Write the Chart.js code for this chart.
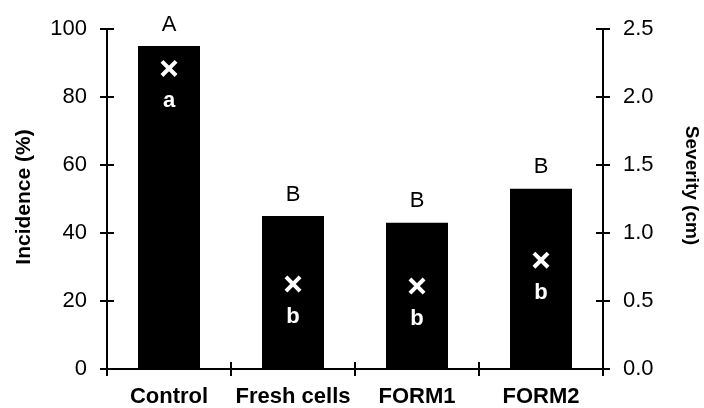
<!DOCTYPE html>
<html>
<head>
<meta charset="utf-8">
<script src="https://cdn.jsdelivr.net/npm/chart.js@4.4.1/dist/chart.umd.min.js"></script>
<style>
  html, body { margin: 0; padding: 0; background: #fff; }
  #wrap { width: 704px; height: 408px; position: relative; }
</style>
</head>
<body>
<div id="wrap"><canvas id="c"></canvas></div>
<script>
const categories = ['Control', 'Fresh cells', 'FORM1', 'FORM2'];
const incidence = [95, 45, 43, 53];
const severity = [2.21, 0.625, 0.61, 0.80];
const incidenceLetters = ['A', 'B', 'B', 'B'];
const severityLetters = ['a', 'b', 'b', 'b'];
const incidenceTicks = [0, 20, 40, 60, 80, 100];
const severityTicks = [0, 0.5, 1.0, 1.5, 2.0, 2.5];
const leftTitle = 'Incidence (%)';
const rightTitle = 'Severity (cm)';

const FAMILY = "'Liberation Sans', Arial, Helvetica, sans-serif";

const decorPlugin = {
  id: 'decor',
  afterDatasetsDraw(chart) {
    const ctx = chart.ctx;
    const ca = chart.chartArea;
    const x = chart.scales.x, y = chart.scales.y, y2 = chart.scales.y2;
    ctx.save();
    ctx.strokeStyle = '#000';
    ctx.lineWidth = 2;
    ctx.lineCap = 'butt';
    const yTop = y.getPixelForValue(incidenceTicks[incidenceTicks.length - 1]);
    const yBot = y.getPixelForValue(incidenceTicks[0]);
    // axis lines
    ctx.beginPath();
    ctx.moveTo(ca.left, yTop); ctx.lineTo(ca.left, yBot);
    ctx.moveTo(ca.right, y2.getPixelForValue(severityTicks[severityTicks.length - 1]));
    ctx.lineTo(ca.right, y2.getPixelForValue(severityTicks[0]));
    ctx.moveTo(ca.left - 1, yBot); ctx.lineTo(ca.right + 1, yBot);
    ctx.stroke();
    // ticks
    ctx.beginPath();
    incidenceTicks.forEach(v => {
      const p = y.getPixelForValue(v);
      ctx.moveTo(ca.left - 7, p); ctx.lineTo(ca.left + 7, p);
    });
    severityTicks.forEach(v => {
      const p = y2.getPixelForValue(v);
      ctx.moveTo(ca.right - 7, p); ctx.lineTo(ca.right + 7, p);
    });
    for (let i = 0; i <= categories.length; i++) {
      const p = x.getPixelForValue(i - 0.5);
      ctx.moveTo(p, yBot - 7); ctx.lineTo(p, yBot + 7);
    }
    ctx.stroke();

    // letters
    const barMeta = chart.getDatasetMeta(1);
    const ptMeta = chart.getDatasetMeta(0);
    ctx.textAlign = 'center';
    ctx.textBaseline = 'alphabetic';
    barMeta.data.forEach((bar, i) => {
      ctx.fillStyle = '#000';
      ctx.font = '22px ' + FAMILY;
      ctx.fillText(incidenceLetters[i], bar.x, bar.y - 15.5);
      const pt = ptMeta.data[i];
      ctx.fillStyle = '#fff';
      ctx.font = 'bold 22px ' + FAMILY;
      ctx.fillText(severityLetters[i], pt.x, pt.y + 39);
    });

    // axis titles
    ctx.fillStyle = '#000';
    ctx.textBaseline = 'middle';
    ctx.textAlign = 'center';
    ctx.save();
    ctx.translate(24, 197);
    ctx.rotate(-Math.PI / 2);
    ctx.font = 'bold 21px ' + FAMILY;
    ctx.fillText(leftTitle, 0, 0);
    ctx.restore();
    ctx.save();
    ctx.translate(691, 185.5);
    ctx.rotate(Math.PI / 2);
    ctx.font = 'bold 19px ' + FAMILY;
    ctx.fillText(rightTitle, 0, 0);
    ctx.restore();
    ctx.restore();
  }
};

function fitY(w) {
  return s => { s.width = w; s.paddingTop = 0; s.paddingBottom = 0; };
}

new Chart(document.getElementById('c'), {
  type: 'bar',
  data: {
    labels: categories,
    datasets: [
      {
        type: 'line',
        label: 'Severity',
        data: severity,
        yAxisID: 'y2',
        showLine: false,
        pointStyle: 'crossRot',
        pointRadius: 10,
        pointHoverRadius: 10,
        pointBorderWidth: 4,
        pointBorderColor: '#fff',
        pointBackgroundColor: '#fff',
        borderColor: '#fff',
        order: 0
      },
      {
        type: 'bar',
        label: 'Incidence',
        data: incidence,
        yAxisID: 'y',
        backgroundColor: '#000',
        borderWidth: 0,
        categoryPercentage: 1.0,
        barPercentage: 0.5,
        order: 1
      }
    ]
  },
  options: {
    responsive: true,
    maintainAspectRatio: false,
    animation: false,
    devicePixelRatio: 1,
    layout: { padding: { top: 29, left: 0, right: 0, bottom: 0 } },
    plugins: { legend: { display: false }, tooltip: { enabled: false } },
    scales: {
      x: {
        grid: { display: false, drawTicks: false },
        border: { display: false },
        ticks: {
          color: '#000', padding: 15, maxRotation: 0, autoSkip: false,
          font: { family: FAMILY, size: 22, weight: 'bold' }
        },
        afterFit: s => { s.height = 39; s.paddingLeft = 0; s.paddingRight = 0; }
      },
      y: {
        position: 'left',
        min: 0, max: 100,
        afterBuildTicks: s => { s.ticks = incidenceTicks.map(v => ({ value: v })); },
        grid: { display: false, drawTicks: false },
        border: { display: false },
        ticks: { color: '#000', padding: 20, font: { family: FAMILY, size: 22 } },
        afterFit: fitY(107)
      },
      y2: {
        position: 'right',
        min: 0, max: 2.5,
        afterBuildTicks: s => { s.ticks = severityTicks.map(v => ({ value: v })); },
        grid: { display: false, drawTicks: false },
        border: { display: false },
        ticks: {
          color: '#000', padding: 20, font: { family: FAMILY, size: 22 },
          callback: v => Number(v).toFixed(1)
        },
        afterFit: fitY(101)
      }
    }
  },
  plugins: [decorPlugin]
});
</script>
</body>
</html>
